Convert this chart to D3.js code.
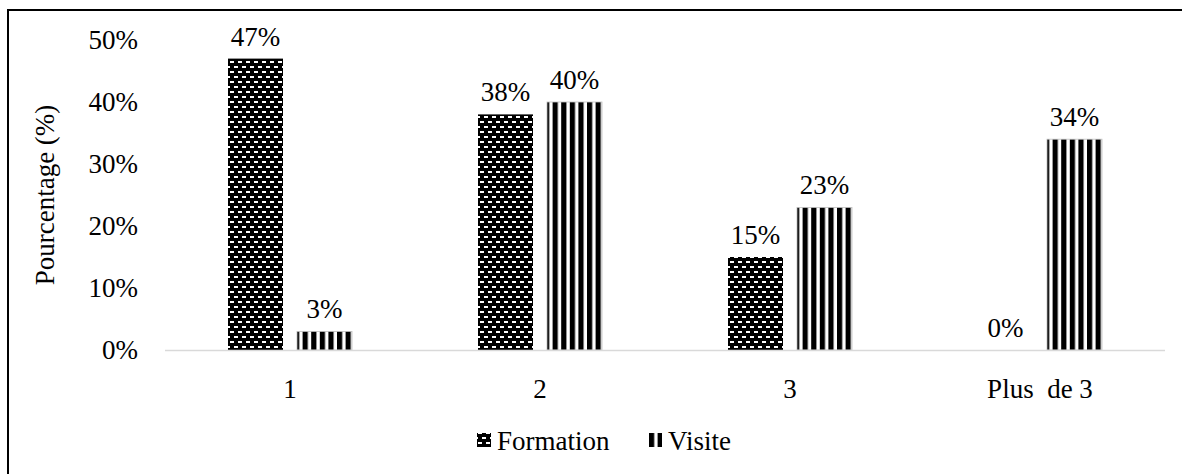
<!DOCTYPE html>
<html>
<head>
<meta charset="utf-8">
<script src="https://cdn.jsdelivr.net/npm/d3@7/dist/d3.min.js"></script>
<style>
  html, body { margin: 0; padding: 0; background: #fff; }
  svg { display: block; }
</style>
</head>
<body>
<svg id="chart" width="1182" height="474"></svg>
<script>
// Number of sessions per participant
const categories = ["1", "2", "3", "Plus  de 3"];
const seriesNames = ["Formation", "Visite"];
const formation = [47, 38, 15, 0];
const visite = [3, 40, 23, 34];
const yTicks = [0, 10, 20, 30, 40, 50];

const FONT = "'Liberation Serif', 'Times New Roman', 'DejaVu Serif', 'Noto Serif', serif";
const FS = 27;

const svg = d3.select("#chart").style("font-family", FONT);
const W = 1182, H = 474;
const margin = { left: 165, right: 17, top: 40, bottom: 124 };

// Outer frame (left and top edges)
svg.append("path")
  .attr("d", `M8,${H + 2} L8,10 L${W + 2},10`)
  .attr("fill", "none").attr("stroke", "#000").attr("stroke-width", 2);

// Fill patterns
const defs = svg.append("defs");
const brick = defs.append("pattern")
  .attr("id", "pat-formation").attr("patternUnits", "userSpaceOnUse")
  .attr("width", 8).attr("height", 10);
brick.append("rect").attr("width", 8).attr("height", 10).attr("fill", "#000");
brick.append("rect").attr("x", 1).attr("y", 1).attr("width", 4).attr("height", 2).attr("fill", "#fff");
brick.append("rect").attr("x", 5).attr("y", 6).attr("width", 4).attr("height", 2).attr("fill", "#fff");
brick.append("rect").attr("x", -3).attr("y", 6).attr("width", 4).attr("height", 2).attr("fill", "#fff");

const stripes = defs.append("pattern")
  .attr("id", "pat-visite").attr("patternUnits", "userSpaceOnUse")
  .attr("width", 8.6).attr("height", 8);
stripes.append("rect").attr("width", 8.6).attr("height", 8).attr("fill", "#fff");
stripes.append("rect").attr("x", 0).attr("width", 5.2).attr("height", 8).attr("fill", "#000");

const fills = { Formation: "url(#pat-formation)", Visite: "url(#pat-visite)" };

const x0 = d3.scaleBand().domain(categories)
  .range([margin.left, W - margin.right]).paddingInner(0).paddingOuter(0);
const x1 = d3.scaleBand().domain(seriesNames)
  .range([0, x0.bandwidth()]).paddingInner(0.203).paddingOuter(0.913);
const y = d3.scaleLinear().domain([0, 50]).range([H - margin.bottom, margin.top]);

function label(sel) {
  return sel.style("font-family", FONT).attr("font-size", FS).attr("fill", "#000");
}

// Y axis tick labels
svg.append("g")
  .selectAll("text").data(yTicks).join("text")
  .attr("x", 138).attr("y", d => y(d)).attr("dy", "0.34em")
  .attr("text-anchor", "end")
  .call(label)
  .text(d => d + "%");

// Y axis title
svg.append("text")
  .attr("transform", `translate(54,${(y(0) + y(50)) / 2}) rotate(-90)`)
  .attr("text-anchor", "middle")
  .call(label)
  .text("Pourcentage (%)");

// Bars
const rows = categories.map((c, i) => ({ cat: c, values: [
  { key: "Formation", v: formation[i] },
  { key: "Visite", v: visite[i] }
]}));

const groups = svg.append("g").selectAll("g").data(rows).join("g")
  .attr("transform", d => `translate(${x0(d.cat)},0)`);

groups.selectAll("rect").data(d => d.values.filter(e => e.v > 0)).join("rect")
  .attr("x", d => x1(d.key))
  .attr("y", d => y(d.v))
  .attr("width", x1.bandwidth())
  .attr("height", d => y(0) - y(d.v))
  .attr("fill", d => fills[d.key])
  .attr("stroke", d => d.key === "Visite" ? "#bfbfbf" : "none")
  .attr("stroke-width", 0.8);

groups.selectAll("text").data(d => d.values).join("text")
  .attr("x", d => x1(d.key) + x1.bandwidth() / 2)
  .attr("y", d => y(d.v) - 13)
  .attr("text-anchor", "middle")
  .call(label)
  .text(d => d.v + "%");

// X axis line
svg.append("line")
  .attr("x1", margin.left).attr("x2", W - margin.right)
  .attr("y1", y(0) + 0.5).attr("y2", y(0) + 0.5)
  .attr("stroke", "#d9d9d9").attr("stroke-width", 1.5);

// X axis labels
svg.append("g").selectAll("text").data(categories).join("text")
  .attr("x", d => x0(d) + x0.bandwidth() / 2)
  .attr("y", y(0) + 48)
  .attr("text-anchor", "middle")
  .call(label)
  .style("white-space", "pre")
  .text(d => d);

// Legend
const legend = svg.append("g").attr("transform", "translate(477,441)");
const legendItems = [
  { key: "Formation", x: 0 },
  { key: "Visite", x: 171 }
];
legendItems.forEach(it => {
  legend.append("rect")
    .attr("x", it.x).attr("y", -8).attr("width", 14).attr("height", 14)
    .attr("fill", fills[it.key]);
  legend.append("text")
    .attr("x", it.x + 20).attr("y", 0).attr("dy", "0.34em")
    .call(label)
    .text(it.key);
});
</script>
</body>
</html>
